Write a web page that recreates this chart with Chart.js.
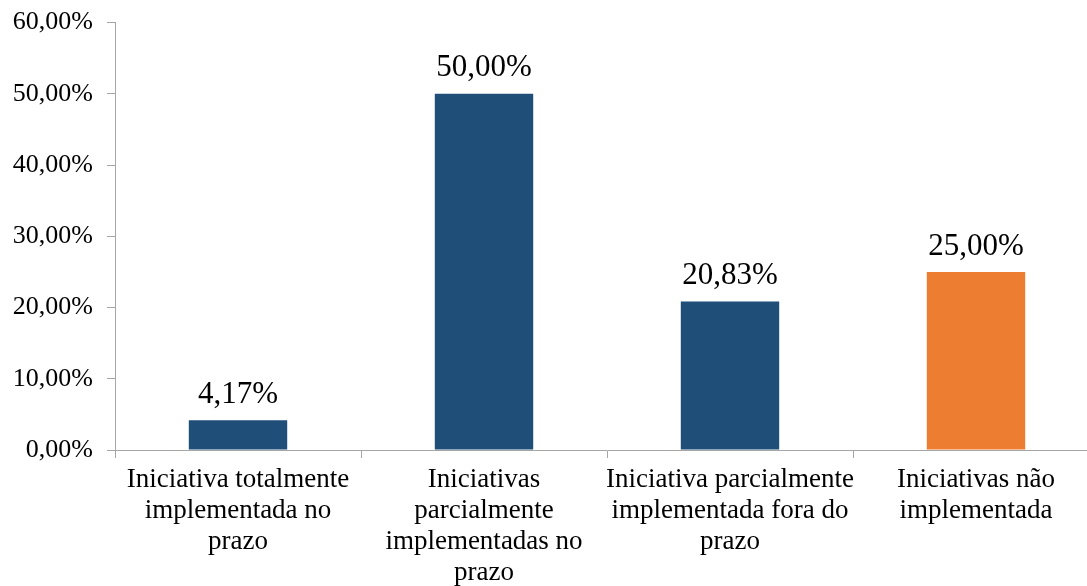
<!DOCTYPE html>
<html>
<head>
<meta charset="utf-8">
<script src="https://cdn.jsdelivr.net/npm/chart.js@4/dist/chart.umd.min.js"></script>
<style>
  html, body { margin: 0; padding: 0; background: #fff; overflow: hidden; }
  #wrap { position: absolute; left: 0; top: -7px; width: 1099px; height: 593px; }
</style>
</head>
<body>
<div id="wrap"><canvas id="chart"></canvas></div>
<script>
const categories = [
  ["Iniciativa totalmente", "implementada no", "prazo"],
  ["Iniciativas", "parcialmente", "implementadas no", "prazo"],
  ["Iniciativa parcialmente", "implementada fora do", "prazo"],
  ["Iniciativas não", "implementada"],
];
const values = [4.17, 50.0, 20.83, 25.0];
const barColors = ["#1F4E79", "#1F4E79", "#1F4E79", "#ED7D31"];

const serif = '"Liberation Serif", "Times New Roman", serif';
const axisGray = "#A6A6A6";

function pct(v) {
  return v.toFixed(2).replace(".", ",") + "%";
}

// draws the value above each bar
const barValues = {
  id: "barValues",
  afterDatasetsDraw(chart) {
    const ctx = chart.ctx;
    const meta = chart.getDatasetMeta(0);
    ctx.save();
    ctx.font = "31px " + serif;
    ctx.fillStyle = "#000";
    ctx.textAlign = "center";
    ctx.textBaseline = "bottom";
    meta.data.forEach((bar, i) => {
      ctx.fillText(pct(values[i]), bar.x, bar.y - 10);
    });
    ctx.restore();
  },
};

new Chart(document.getElementById("chart"), {
  type: "bar",
  data: {
    labels: categories,
    datasets: [
      {
        data: values,
        backgroundColor: barColors,
        barPercentage: 0.4,
        categoryPercentage: 1.0,
      },
    ],
  },
  options: {
    responsive: true,
    maintainAspectRatio: false,
    animation: false,
    layout: { padding: 0 },
    plugins: {
      legend: { display: false },
      tooltip: { enabled: false },
    },
    scales: {
      x: {
        grid: {
          display: true,
          drawOnChartArea: false,
          color: axisGray,
          tickLength: 8,
          offset: true,
        },
        border: { color: axisGray, width: 1 },
        ticks: {
          color: "#000",
          font: { family: serif, size: 27, lineHeight: 1.15 },
          padding: 6,
          maxRotation: 0,
          autoSkip: false,
        },
        afterFit(scale) {
          scale.height = 136;
        },
      },
      y: {
        min: 0,
        max: 60,
        grid: {
          display: true,
          drawOnChartArea: false,
          color: axisGray,
          tickLength: 8,
        },
        border: { color: axisGray, width: 1 },
        ticks: {
          stepSize: 10,
          color: "#000",
          font: { family: serif, size: 26 },
          padding: 14,
          callback: (v) => pct(v),
        },
        afterFit(scale) {
          scale.width = 115;
        },
      },
    },
  },
  plugins: [barValues],
});
</script>
</body>
</html>
